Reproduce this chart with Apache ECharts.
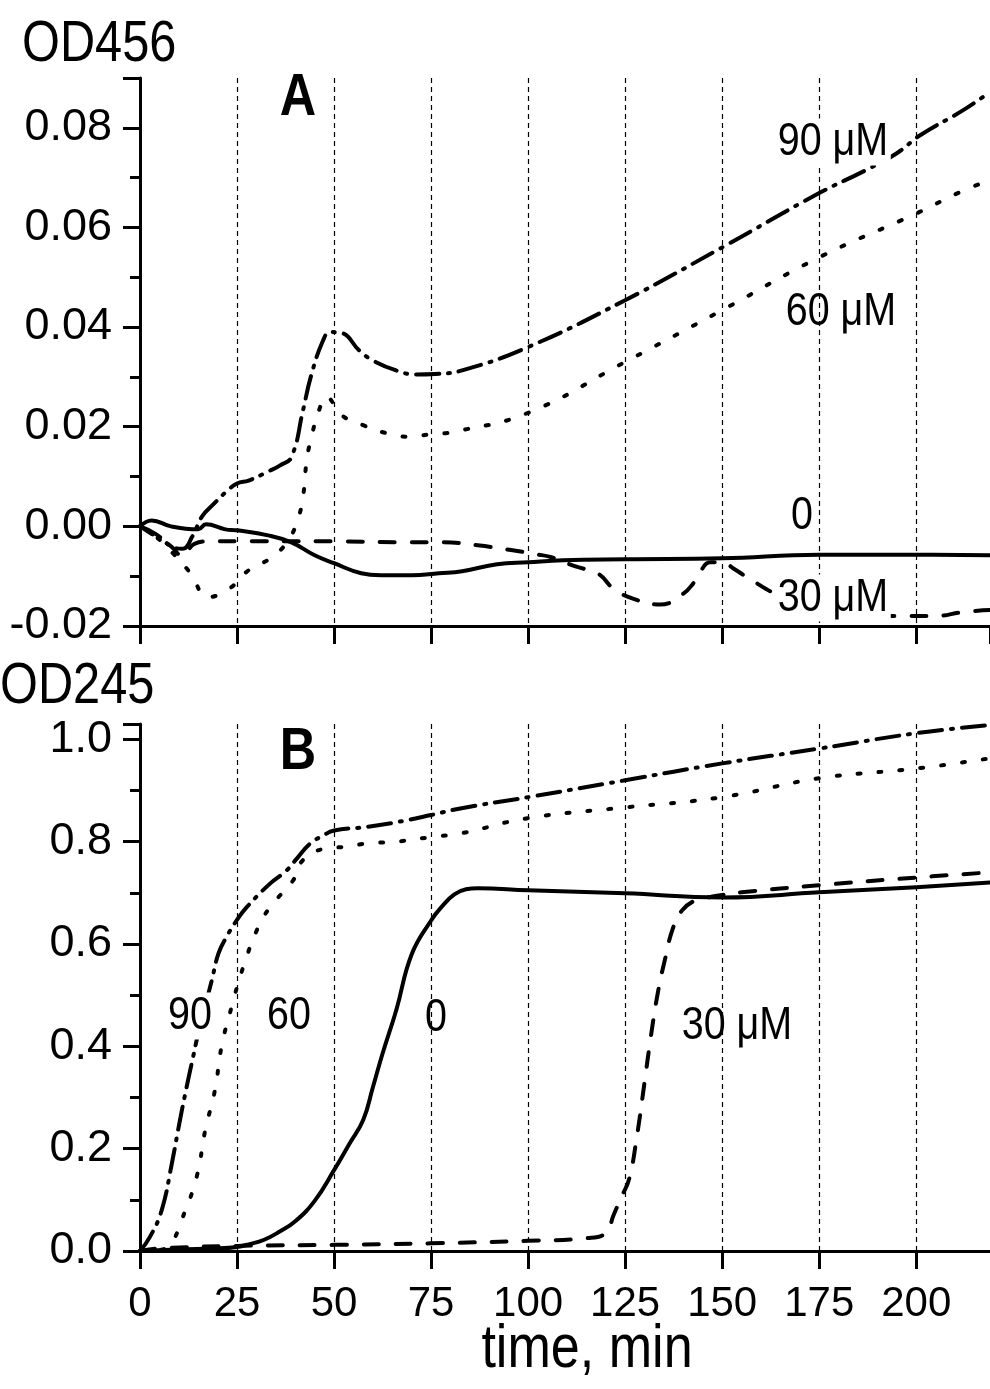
<!DOCTYPE html>
<html>
<head>
<meta charset="utf-8">
<script src="https://cdn.jsdelivr.net/npm/echarts@6/dist/echarts.min.js"></script>
<style>
  html, body { margin: 0; padding: 0; background: #fff; }
  #chart { width: 990px; height: 1389px; }
</style>
</head>
<body>
<div id="chart"></div>
<script>
// ---- data (time in min) ----
// panel A, OD456
const a0Time = [0, 3, 8, 15, 17, 22, 25, 33, 39, 45, 50, 57, 62, 70, 77, 83, 92, 100, 109, 125, 150, 175, 200, 219];
const a0Val  = [0, 0.0012, 0, -0.0006, 0.0004, -0.0006, -0.0008, -0.0018, -0.0032, -0.0058, -0.0074, -0.0094, -0.0098, -0.0098, -0.0094, -0.009, -0.0076, -0.0072, -0.0068, -0.0066, -0.0064, -0.0057, -0.0057, -0.0058];

const a30Time = [0, 4, 8, 11, 14, 18, 25, 50, 68, 78, 87, 96, 102, 106, 112, 118, 122, 127, 134, 140, 143, 147, 150, 153, 157, 165, 175, 185, 195, 205, 212, 219];
const a30Val  = [0, -0.002, -0.004, -0.006, -0.0035, -0.003, -0.003, -0.003, -0.0032, -0.0032, -0.0038, -0.0048, -0.0056, -0.0062, -0.008, -0.0095, -0.0125, -0.0145, -0.0157, -0.0135, -0.011, -0.0072, -0.0072, -0.0085, -0.0105, -0.014, -0.0165, -0.0178, -0.018, -0.018, -0.0172, -0.0168];

const a60Time = [0, 4, 8, 13, 17.5, 23, 28, 34, 38, 40.5, 42, 43, 44.5, 46, 48, 52, 57.5, 63.5, 69, 75, 81, 100, 125, 150, 175, 200, 211, 219];
const a60Val  = [0, -0.002, -0.005, -0.0094, -0.0142, -0.0125, -0.0088, -0.0062, -0.003, 0.001, 0.006, 0.0135, 0.019, 0.023, 0.026, 0.0223, 0.0203, 0.0187, 0.018, 0.0185, 0.019, 0.0228, 0.033, 0.0434, 0.054, 0.0628, 0.067, 0.0695];

const a90Time = [0, 4, 8, 11, 13.5, 16, 19, 22, 25, 28, 33, 36, 39, 42, 44, 47, 49, 52, 56.5, 60, 66, 71, 76, 83, 100, 125, 150, 175, 187, 195, 201, 212, 219];
const a90Val  = [0, -0.0015, -0.004, -0.0045, -0.002, 0.002, 0.0045, 0.0068, 0.0086, 0.0092, 0.011, 0.0122, 0.0139, 0.0233, 0.030, 0.037, 0.039, 0.0388, 0.0353, 0.0333, 0.0313, 0.0305, 0.0306, 0.0313, 0.036, 0.0454, 0.056, 0.0669, 0.0715, 0.0749, 0.0785, 0.0835, 0.0872];

// panel B, OD245
const b0Time = [0, 10, 20, 25, 28, 32, 36, 40, 45, 50, 54, 57.5, 60, 62.5, 66, 70, 75, 78, 81, 84, 87, 100, 125, 150, 175, 200, 219];
const b0Val  = [0, 0.003, 0.005, 0.008, 0.013, 0.022, 0.038, 0.058, 0.098, 0.158, 0.21, 0.256, 0.32, 0.386, 0.47, 0.58, 0.646, 0.675, 0.697, 0.707, 0.709, 0.705, 0.699, 0.691, 0.701, 0.711, 0.72];

const b30Time = [0, 5, 25, 50, 75, 100, 115, 120, 122, 124, 126, 128, 130, 131.6, 133.4, 135.2, 137.4, 139.7, 143.3, 147, 150, 155, 175, 200, 219];
const b30Val  = [0, 0.005, 0.01, 0.012, 0.015, 0.02, 0.025, 0.035, 0.07, 0.105, 0.14, 0.223, 0.33, 0.418, 0.504, 0.568, 0.633, 0.666, 0.686, 0.692, 0.696, 0.701, 0.715, 0.73, 0.74];

const b60Time = [0, 5, 8, 10.7, 14.6, 16.8, 19.3, 21, 23.6, 26.6, 30.9, 34.4, 39.5, 42, 48, 53, 59, 66, 75, 82.5, 100, 125, 150, 175, 200, 219];
const b60Val  = [0, 0.002, 0.015, 0.06, 0.145, 0.236, 0.314, 0.399, 0.477, 0.555, 0.64, 0.68, 0.725, 0.764, 0.787, 0.79, 0.797, 0.80, 0.809, 0.816, 0.846, 0.867, 0.887, 0.924, 0.943, 0.963];

const b90Time = [0, 2.6, 5.6, 8.2, 10.3, 12, 13.7, 15, 18.5, 20.2, 22.3, 24.9, 27.5, 33.5, 37.8, 40.4, 43.8, 47.2, 50, 57.5, 66, 75, 82.5, 100, 125, 150, 175, 200, 219];
const b90Val  = [0, 0.028, 0.08, 0.171, 0.256, 0.32, 0.38, 0.425, 0.529, 0.581, 0.614, 0.646, 0.672, 0.718, 0.744, 0.767, 0.796, 0.812, 0.822, 0.828, 0.838, 0.852, 0.865, 0.887, 0.92, 0.953, 0.982, 1.012, 1.028];

// axis ranges / ticks
const timeMax = 219;
const timeStep = 25;
const odaRange = [-0.02, 0.09];
const odaStep = 0.02;
const odbRange = [0, 1.03];
const odbStep = 0.2;

// ---- helpers ----
const FONT = "'Liberation Sans', Arial, Helvetica, sans-serif";
const NARROW = 0.84; // the figure uses a condensed Helvetica
const zip = (t, v) => t.map((x, i) => [x, v[i]]);

const styles = {
  solid:   { type: 'solid' },
  dashed:  { type: [15, 17] },
  dotted:  { type: [3, 18] },
  dashdot: { type: [23, 9, 2, 9] },
};

function line(name, t, v, style, idx) {
  return {
    name, type: 'line', xAxisIndex: idx, yAxisIndex: idx,
    data: zip(t, v),
    showSymbol: false, symbol: 'none',
    smooth: 0.45,
    lineStyle: { color: '#000', width: 4, cap: 'round', join: 'round', ...style },
    silent: true, animation: false, z: 3,
  };
}

function xAxis(idx, labels) {
  return {
    gridIndex: idx, type: 'value', min: 0, max: timeMax, interval: timeStep,
    axisLine: { show: true, onZero: false, lineStyle: { color: '#000', width: 3 } },
    axisTick: { show: true, length: 18, lineStyle: { color: '#000', width: 3 } },
    axisLabel: { show: labels, margin: 32, fontSize: 42, color: '#000', fontFamily: FONT, showMaxLabel: false },
    splitLine: { show: true, showMinLine: false, showMaxLine: false,
                 lineStyle: { color: '#000', width: 1.2, type: [5, 4] } },
  };
}

function yAxis(idx, range, step, digits) {
  return {
    gridIndex: idx, type: 'value', min: range[0], max: range[1], interval: step,
    axisLine: { show: true, onZero: false, lineStyle: { color: '#000', width: 3 } },
    axisTick: { show: true, length: 17, lineStyle: { color: '#000', width: 3 } },
    minorTick: { show: true, splitNumber: 2, length: 10, lineStyle: { color: '#000', width: 3 } },
    axisLabel: { margin: 28, fontSize: 45, color: '#000', fontFamily: FONT, showMaxLabel: false,
                 formatter: v => v.toFixed(digits) },
    splitLine: { show: false },
  };
}

function txt(text, x, y, size, opts) {
  return {
    type: 'text', z: 100, x, y, scaleX: NARROW,
    style: Object.assign({
      text, x: 0, y: 0, fontSize: size, fontFamily: FONT, fill: '#000',
      align: 'center', verticalAlign: 'middle',
    }, opts || {}),
  };
}
const boxed = { backgroundColor: '#fff', padding: [0, 3] };
const bold = { fontWeight: 'bold' };

const chart = echarts.init(document.getElementById('chart'), null, { renderer: 'canvas' });
chart.setOption({
  backgroundColor: '#fff',
  animation: false,
  grid: [
    { left: 140, top: 78, width: 850, height: 548 },
    { left: 140, top: 724, width: 850, height: 527 },
  ],
  xAxis: [xAxis(0, false), xAxis(1, true)],
  yAxis: [yAxis(0, odaRange, odaStep, 2), yAxis(1, odbRange, odbStep, 1)],
  series: [
    line('A 0', a0Time, a0Val, styles.solid, 0),
    line('A 30', a30Time, a30Val, styles.dashed, 0),
    line('A 60', a60Time, a60Val, styles.dotted, 0),
    line('A 90', a90Time, a90Val, styles.dashdot, 0),
    line('B 0', b0Time, b0Val, styles.solid, 1),
    line('B 30', b30Time, b30Val, styles.dashed, 1),
    line('B 60', b60Time, b60Val, styles.dotted, 1),
    line('B 90', b90Time, b90Val, styles.dashdot, 1),
  ],
  graphic: [
    txt('OD456', 22, 45, 58, { align: 'left' }),
    txt('OD245', 0, 687, 58, { align: 'left' }),
    txt('time, min', 587, 1350, 62),
    txt('A', 298, 98, 60, bold),
    txt('B', 298, 752, 60, bold),
    txt('90 μM', 833, 142, 47, boxed),
    txt('60 μM', 841, 312, 47),
    txt('0', 802, 516, 47),
    txt('30 μM', 833, 598, 47, boxed),
    txt('90', 190, 1016, 47, boxed),
    txt('60', 289, 1016, 47),
    txt('0', 436, 1018, 47),
    txt('30 μM', 737, 1026, 47),
  ],
});
</script>
</body>
</html>
